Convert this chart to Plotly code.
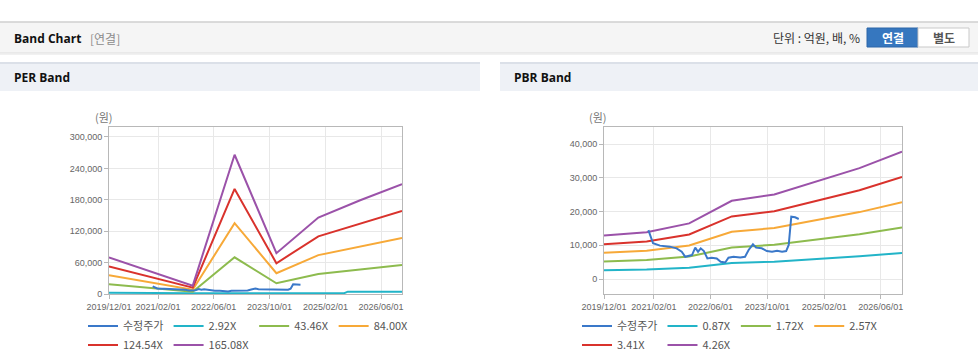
import plotly.graph_objects as go

W, H = 978, 361

# ---------------- data ----------------
band_dates = ["2019-12-01", "2020-12-01", "2021-12-01", "2022-12-01",
              "2023-12-01", "2024-12-01", "2025-12-01", "2026-12-01"]

# PER band (원)
per_292_dates = ["2019-12-01", "2021-12-01", "2025-07-15", "2025-08-15", "2026-12-01"]
per_292 = [2500, 1500, 1600, 4400, 4400]
per_4346 = [18400, 11300, 4200, 70000, 20500, 38400, 47100, 55300]
per_8400 = [35600, 21900, 8100, 135300, 39700, 74300, 91100, 106800]
per_12454 = [52800, 32400, 12100, 200600, 58800, 110100, 135000, 158400]
per_16508 = [70000, 43000, 16000, 266000, 78000, 146000, 179000, 210000]

# PBR band (원)
pbr_087 = [2630, 2840, 3370, 4740, 5130, 5900, 6720, 7720]
pbr_172 = [5210, 5610, 6660, 9370, 10130, 11670, 13280, 15260]
pbr_257 = [7780, 8390, 9950, 14000, 15140, 17440, 19850, 22800]
pbr_341 = [10330, 11130, 13210, 18570, 20090, 23130, 26340, 30260]
pbr_426 = [12900, 13900, 16500, 23200, 25100, 28900, 32900, 37800]

# 수정주가 (adjusted price)
price_dates = ["2020-12-16", "2021-01-07", "2021-01-25", "2021-03-25", "2021-06-18",
               "2021-08-15", "2021-09-28", "2021-10-28", "2021-11-25", "2021-12-25",
               "2022-01-22", "2022-02-15", "2022-03-10", "2022-04-06", "2022-05-06",
               "2022-06-12", "2022-07-25", "2022-08-28", "2022-10-06", "2022-11-03",
               "2022-12-16", "2023-02-12", "2023-03-25", "2023-04-25", "2023-06-01",
               "2023-06-28", "2023-08-16", "2023-09-28", "2023-11-12", "2023-12-25",
               "2024-02-06", "2024-03-12", "2024-04-03", "2024-04-16", "2024-04-25",
               "2024-05-28", "2024-06-28"]
price = [14500, 12100, 10600, 9900, 9600, 9100, 8100, 6600, 6900, 7100,
         9300, 8100, 9100, 8300, 6100, 6300, 6100, 5100, 4900, 6300,
         6600, 6400, 6600, 8600, 10300, 9300, 9100, 8300, 8100, 8400,
         8100, 8300, 10100, 14000, 18500, 18300, 17800]

per_labels = ["수정주가", "2.92X", "43.46X", "84.00X", "124.54X", "165.08X"]
pbr_labels = ["수정주가", "0.87X", "1.72X", "2.57X", "3.41X", "4.26X"]
x_tickvals = ["2019-12-01", "2021-02-01", "2022-06-01", "2023-10-01", "2025-02-01", "2026-06-01"]
x_ticktext = ["2019/12/01", "2021/02/01", "2022/06/01", "2023/10/01", "2025/02/01", "2026/06/01"]

# ---------------- style ----------------
COLORS = ["#3a78c9", "#22b4c8", "#8dbb4e", "#f7a938", "#d9322c", "#9b52a9"]
GROUPS = ["a", "b", "c", "d", "a", "b"]
LAT = "Liberation Sans, Arial, Noto Sans CJK KR"
KR = "Noto Sans CJK KR, Liberation Sans"
HDR = "Open Sans, Noto Sans CJK KR"


def px(x):
    return x / W


def py(y):
    return 1 - y / H


fig = go.Figure()

per_series = [
    (price_dates, price, "x", "y3"),
    (per_292_dates, per_292, "x", "y"),
    (band_dates, per_4346, "x", "y"),
    (band_dates, per_8400, "x", "y"),
    (band_dates, per_12454, "x", "y"),
    (band_dates, per_16508, "x", "y"),
]
for i, (xs, ys, xa, ya) in enumerate(per_series):
    fig.add_trace(go.Scatter(
        x=xs, y=ys, mode="lines", name=per_labels[i],
        line=dict(color=COLORS[i], width=2),
        xaxis=xa, yaxis=ya, legend="legend", legendgroup="per" + GROUPS[i],
        hoverinfo="skip"))

pbr_series = [
    (price_dates, price, "x2", "y4"),
    (band_dates, pbr_087, "x2", "y2"),
    (band_dates, pbr_172, "x2", "y2"),
    (band_dates, pbr_257, "x2", "y2"),
    (band_dates, pbr_341, "x2", "y2"),
    (band_dates, pbr_426, "x2", "y2"),
]
for i, (xs, ys, xa, ya) in enumerate(pbr_series):
    fig.add_trace(go.Scatter(
        x=xs, y=ys, mode="lines", name=pbr_labels[i],
        line=dict(color=COLORS[i], width=2),
        xaxis=xa, yaxis=ya, legend="legend2", legendgroup="pbr" + GROUPS[i],
        hoverinfo="skip"))

ydom = [py(294), py(127)]
frame = dict(showline=True, mirror=True, linecolor="#b8b8b8", linewidth=1,
             showgrid=True, gridcolor="#e8e8e8", gridwidth=1,
             ticks="outside", ticklen=4, tickcolor="#b8b8b8",
             tickfont=dict(family=LAT, size=9, color="#666666"),
             zeroline=False, fixedrange=True, automargin=False)

xcommon = dict(type="date", range=["2019-12-01", "2026-12-01"],
               tickmode="array", tickvals=x_tickvals, ticktext=x_ticktext, **frame)

PER_RANGE = [0, 319000]
PBR_RANGE = [-4450, 45100]

fig.update_layout(
    width=W, height=H,
    margin=dict(l=0, r=0, t=0, b=0, pad=0, autoexpand=False),
    paper_bgcolor="white", plot_bgcolor="white",
    showlegend=True,
    xaxis=dict(domain=[px(109), px(402)], anchor="y", **xcommon),
    yaxis=dict(domain=ydom, anchor="x", range=PER_RANGE, tickmode="linear",
               tick0=0, dtick=60000, tickformat=",d", **frame),
    yaxis3=dict(overlaying="y", anchor="x", range=PER_RANGE, visible=False,
                fixedrange=True, automargin=False),
    xaxis2=dict(domain=[px(604), px(902)], anchor="y2", **xcommon),
    yaxis2=dict(domain=ydom, anchor="x2", range=PBR_RANGE, tickmode="linear",
                tick0=0, dtick=10000, tickformat=",d", **frame),
    yaxis4=dict(overlaying="y2", anchor="x2", range=PBR_RANGE, visible=False,
                fixedrange=True, automargin=False),
    legend=dict(orientation="h", x=px(83), y=py(311.5), xanchor="left", yanchor="top",
                traceorder="grouped", font=dict(family=KR, size=11, color="#555555"),
                bgcolor="rgba(0,0,0,0)", tracegroupgap=0),
    legend2=dict(orientation="h", x=px(577), y=py(311.5), xanchor="left", yanchor="top",
                 traceorder="grouped", font=dict(family=KR, size=11, color="#555555"),
                 bgcolor="rgba(0,0,0,0)", tracegroupgap=0),
)

shapes = []
# top header bar + shadow
shapes.append(dict(type="rect", xref="paper", yref="paper", x0=0, x1=1,
                   y0=py(55), y1=py(51), fillcolor="#f1f1f1", line_width=0, layer="below"))
shapes.append(dict(type="rect", xref="paper", yref="paper", x0=0, x1=1,
                   y0=py(53.5), y1=py(52), fillcolor="#e9e9e9", line_width=0, layer="below"))
shapes.append(dict(type="rect", xref="paper", yref="paper", x0=0, x1=1,
                   y0=py(52), y1=py(22), fillcolor="#f5f5f5", line_width=0, layer="below"))
shapes.append(dict(type="line", xref="paper", yref="paper", x0=0, x1=1,
                   y0=py(22), y1=py(22), line=dict(color="#cfcfcf", width=1.5), layer="below"))
# panel header bars
for x0, x1 in [(0, 480), (500, 978)]:
    shapes.append(dict(type="rect", xref="paper", yref="paper", x0=px(x0), x1=px(x1),
                       y0=py(91), y1=py(63), fillcolor="#eef1f6", line_width=0, layer="below"))
    shapes.append(dict(type="line", xref="paper", yref="paper", x0=px(x0), x1=px(x1),
                       y0=py(63), y1=py(63), line=dict(color="#dbe0e8", width=2), layer="below"))
# buttons
shapes.append(dict(type="rect", xref="paper", yref="paper", x0=px(867), x1=px(918),
                   y0=py(47), y1=py(28), fillcolor="#3677bf",
                   line=dict(color="#2d67a8", width=1), layer="below"))
shapes.append(dict(type="rect", xref="paper", yref="paper", x0=px(918), x1=px(969),
                   y0=py(47), y1=py(28), fillcolor="#ffffff",
                   line=dict(color="#c9c9c9", width=1), layer="below"))
fig.update_layout(shapes=shapes)

ann = []


def add_text(text, x, y, size, color, family, xanchor="left", bold=False):
    ann.append(dict(text=("<b>%s</b>" % text) if bold else text,
                    xref="paper", yref="paper", x=px(x), y=py(y),
                    xanchor=xanchor, yanchor="middle", showarrow=False,
                    font=dict(size=size, color=color, family=family)))


add_text("Band Chart", 12, 38.5, 12, "#111111", HDR, bold=True)
add_text("[연결]", 88, 38.5, 12, "#8c8c8c", KR)
add_text("단위 : 억원, 배, %", 862, 37, 12, "#333333", KR, xanchor="right")
add_text("연결", 892.5, 37.5, 12, "#ffffff", KR, xanchor="center", bold=True)
add_text("별도", 943.5, 37.5, 12, "#555555", KR, xanchor="center", bold=True)
add_text("PER Band", 12, 77.5, 12, "#111111", HDR, bold=True)
add_text("PBR Band", 512, 77.5, 12, "#111111", HDR, bold=True)
add_text("(원)", 104, 117, 11, "#777777", KR, xanchor="center")
add_text("(원)", 598, 117, 11, "#777777", KR, xanchor="center")
fig.update_layout(annotations=ann)

fig.write_html("out.html",
               config={"displayModeBar": False},
               post_script="document.body.style.margin='0';document.body.style.overflow='hidden';")
